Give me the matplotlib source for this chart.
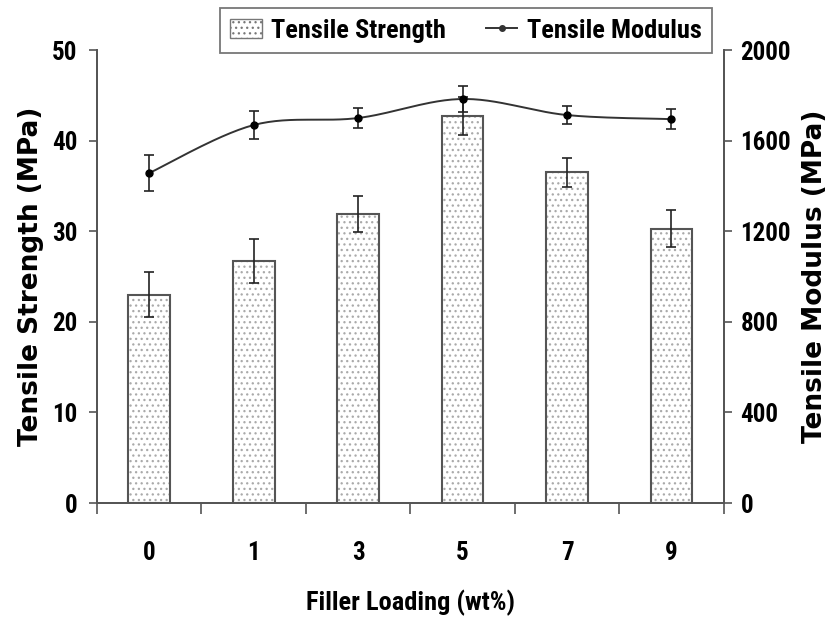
import numpy as np
import matplotlib.pyplot as plt
from matplotlib.patches import Patch
from matplotlib.lines import Line2D

narrow = ['Roboto Condensed', 'IBM Plex Sans Condensed', 'DejaVu Sans']
plt.rcParams['font.family'] = narrow
plt.rcParams['hatch.linewidth'] = 0.9

# data
loading = ['0', '1', '3', '5', '7', '9']
strength = [23.0, 26.7, 31.9, 42.7, 36.5, 30.3]
strength_err = [2.5, 2.4, 2.0, 2.1, 1.6, 2.0]
modulus = [1457, 1669, 1700, 1784, 1713, 1695]
modulus_err = [80, 62, 44, 57, 40, 45]


def smooth(xs, ys, n=30):
    # catmull-rom curve through the points (like excel's smoothed line)
    p = np.column_stack([xs, ys]).astype(float)
    p = np.vstack([p[0], p, p[-1]])
    out = []
    for i in range(1, len(p) - 2):
        p0, p1, p2, p3 = p[i - 1], p[i], p[i + 1], p[i + 2]
        t = np.linspace(0, 1, n)[:, None]
        seg = 0.5 * ((2 * p1) + (-p0 + p2) * t
                     + (2 * p0 - 5 * p1 + 4 * p2 - p3) * t ** 2
                     + (-p0 + 3 * p1 - 3 * p2 + p3) * t ** 3)
        out.append(seg)
    out = np.vstack(out)
    return out[:, 0], out[:, 1]


fig = plt.figure(figsize=(8.39, 6.18), dpi=100)
ax = fig.add_axes([0.1156, 0.186, 0.747, 0.733])
ax2 = ax.twinx()

x = np.arange(len(loading))
axis_col = '#555555'

ax.bar(x, strength, width=0.4, color='white', hatch='...', edgecolor='#aaaaaa', linewidth=0, zorder=2)
ax.bar(x, strength, width=0.4, fill=False, edgecolor=axis_col, linewidth=1.5, zorder=3)
ax.errorbar(x, strength, yerr=strength_err, fmt='none', ecolor='#222222', elinewidth=1.2,
            capsize=3.5, capthick=1.2, zorder=4)

sx, sy = smooth(x, modulus)
ax2.plot(sx, sy, color='#333333', lw=1.4, zorder=3)
ax2.errorbar(x, modulus, yerr=modulus_err, fmt='o', color='black', ms=5, ecolor='#222222',
             elinewidth=1.2, capsize=3.5, capthick=1.2, zorder=4)

ax.set_xlim(-0.5, len(loading) - 0.5)
ax.set_ylim(0, 50)
ax2.set_ylim(0, 2000)
ax.set_yticks(np.arange(0, 51, 10))
ax2.set_yticks(np.arange(0, 2001, 400))

# tick marks between categories, labels at the centres
ax.set_xticks(np.arange(-0.5, len(loading), 1.0))
ax.set_xticklabels([])
ax.set_xticks(x, minor=True)
ax.set_xticklabels(loading, minor=True)
ax.tick_params(axis='x', which='major', direction='out', length=8, width=1.2, color=axis_col)
ax.tick_params(axis='x', which='minor', length=0, pad=27, labelsize=18)

ax.tick_params(axis='y', direction='out', length=6, width=1.2, color=axis_col, labelsize=18, pad=8)
ax2.tick_params(axis='y', direction='out', length=6, width=1.2, color=axis_col, labelsize=18, pad=6)
for lab in ax.get_xticklabels(minor=True) + ax.get_yticklabels() + ax2.get_yticklabels():
    lab.set_fontweight('bold')

for a in (ax, ax2):
    a.spines['top'].set_visible(False)
    for s in ('left', 'right', 'bottom'):
        a.spines[s].set_color(axis_col)
        a.spines[s].set_linewidth(1.3)

ax.set_ylabel('Tensile Strength (MPa)', fontsize=19, fontweight='bold',
              family=['DejaVu Sans'], labelpad=6)
ax2.set_ylabel('Tensile Modulus (MPa)', fontsize=19, fontweight='bold',
               family=['DejaVu Sans'], labelpad=8)
ax.set_xlabel('Filler Loading (wt%)', fontsize=19, fontweight='bold', labelpad=18)

handles = [Patch(facecolor='white', edgecolor='#777777', hatch='...', linewidth=1),
           Line2D([], [], color='#333333', marker='o', ms=4, lw=1.4)]
leg = fig.legend(handles, ['Tensile Strength', 'Tensile Modulus'], ncol=2,
                 loc='upper right', bbox_to_anchor=(712 / 839, 1 - 8 / 618), borderaxespad=0,
                 frameon=True, fancybox=False, edgecolor=axis_col,
                 prop={'weight': 'bold', 'size': 19, 'family': narrow},
                 handlelength=1.2, handletextpad=0.35, columnspacing=1.5, borderpad=0.4)
leg.get_frame().set_linewidth(1.3)

fig.savefig('out.png', dpi=100)
